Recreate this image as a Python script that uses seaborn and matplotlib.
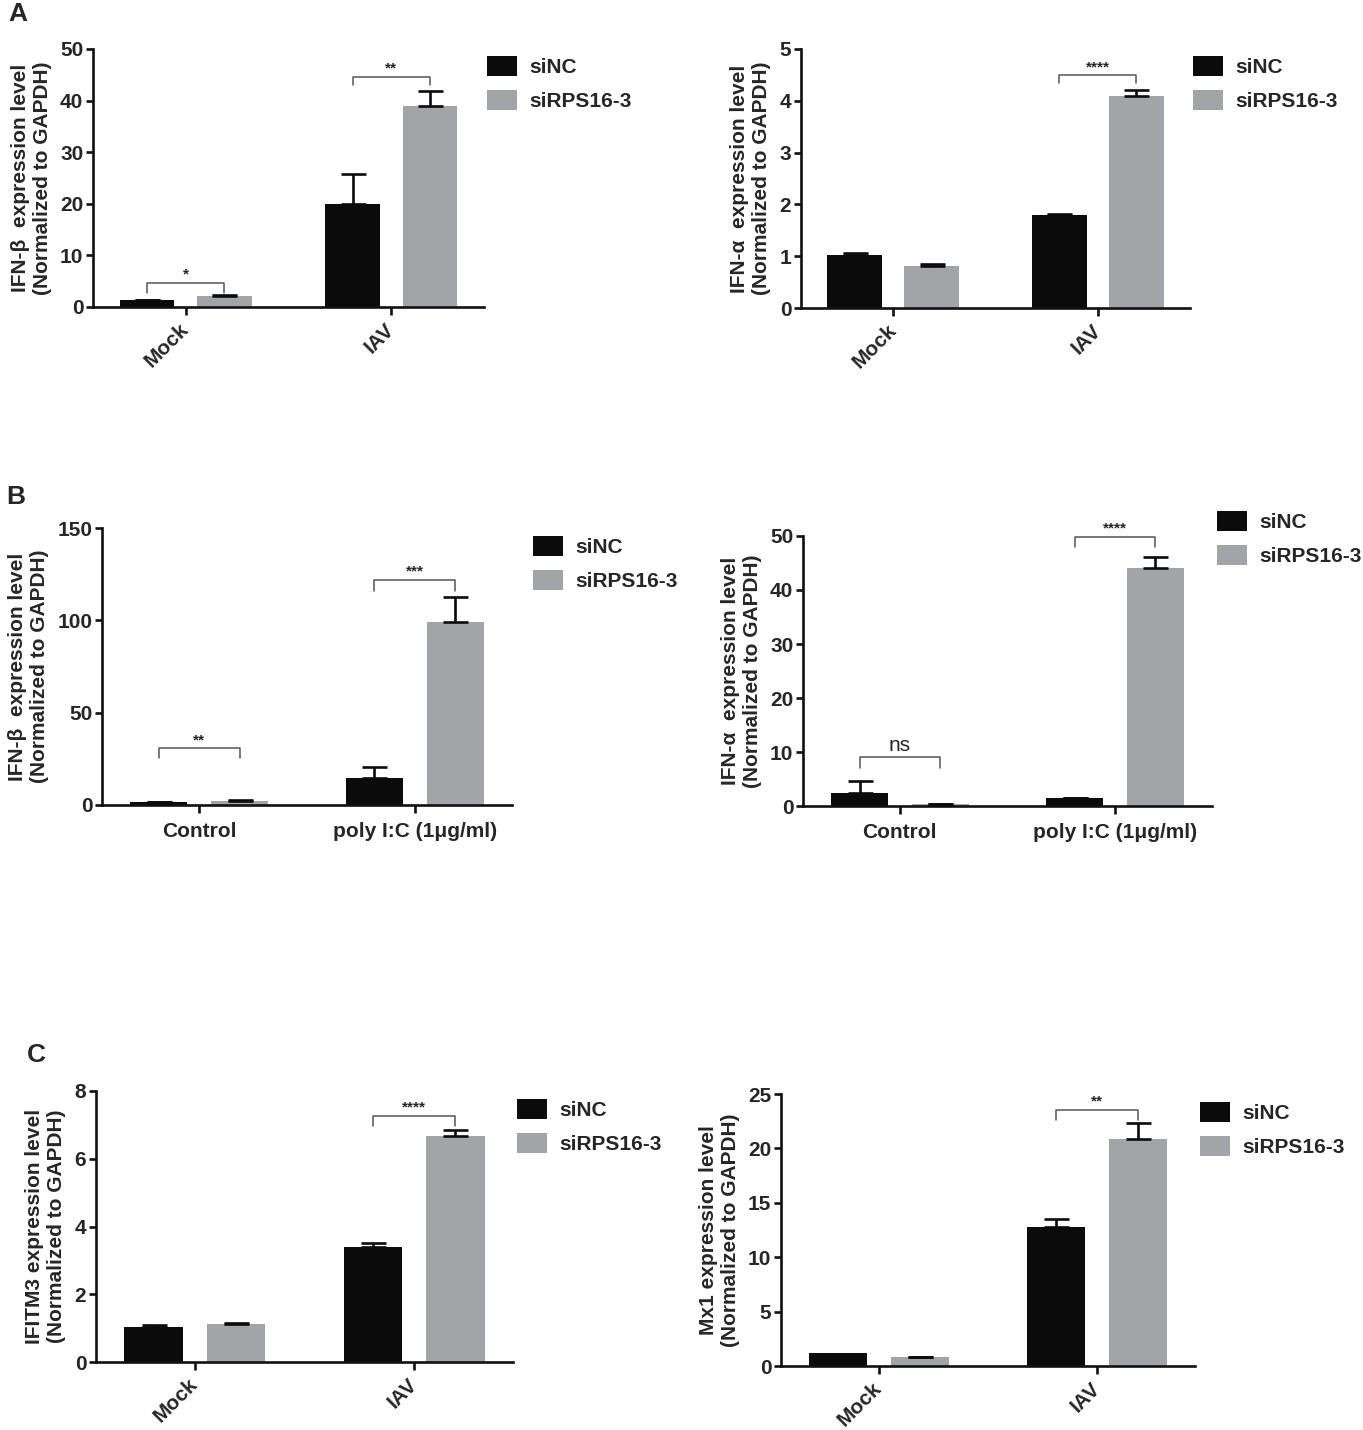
import matplotlib
matplotlib.use("Agg")
import matplotlib.pyplot as plt
import seaborn as sns
import pandas as pd

sns.set_theme(style="ticks")
plt.rcParams['font.family'] = ['Liberation Sans', 'DejaVu Sans']
plt.rcParams['font.weight'] = 'bold'
plt.rcParams['axes.labelweight'] = 'bold'

# ---------------- data ----------------
treatments = ["siNC", "siRPS16-3"]
groups_iav = ["Mock", "IAV"]
groups_pic = ["Control", "poly I:C (1\u03bcg/ml)"]

# Panel A : IFN-beta (IAV)
a1_sinc = [1.3, 19.9]
a1_sinc_err = [0.1, 5.8]
a1_sirps = [2.2, 38.9]
a1_sirps_err = [0.2, 3.0]
a1_brackets = [(0, 4.6, 2.7, "*"), (1, 44.6, 43.0, "**")]

# Panel A : IFN-alpha (IAV)
a2_sinc = [1.02, 1.79]
a2_sinc_err = [0.05, 0.03]
a2_sirps = [0.81, 4.09]
a2_sirps_err = [0.03, 0.12]
a2_brackets = [(1, 4.49, 4.34, "****")]

# Panel B : IFN-beta (poly I:C)
b1_sinc = [1.5, 14.4]
b1_sinc_err = [0.3, 6.0]
b1_sirps = [2.4, 99.3]
b1_sirps_err = [0.4, 13.4]
b1_brackets = [(0, 30.6, 25.6, "**"), (1, 122.0, 116.0, "***")]

# Panel B : IFN-alpha (poly I:C)
b2_sinc = [2.4, 1.4]
b2_sinc_err = [2.3, 0.05]
b2_sirps = [0.4, 44.1]
b2_sirps_err = [0.05, 2.1]
b2_brackets = [(0, 9.0, 7.0, "ns"), (1, 49.9, 48.0, "****")]

# Panel C : IFITM3
c1_sinc = [1.04, 3.40]
c1_sinc_err = [0.04, 0.11]
c1_sirps = [1.12, 6.66]
c1_sirps_err = [0.02, 0.20]
c1_brackets = [(1, 7.26, 6.97, "****")]

# Panel C : Mx1
c2_sinc = [1.17, 12.8]
c2_sinc_err = [0.0, 0.7]
c2_sirps = [0.8, 20.9]
c2_sirps_err = [0.05, 1.4]
c2_brackets = [(1, 23.5, 22.6, "**")]

COL_NC = "#0b0b0b"
COL_RPS = "#a3a4a7"

W, H = 1363, 1430
fig = plt.figure(figsize=(W / 100, H / 100), dpi=100)


def panel(box, groups, sinc, sinc_err, sirps, sirps_err, brackets, yticks,
          ylabel, rotate, legend_xy):
    L, R, T, B = box
    ax = fig.add_axes([L / W, 1 - B / H, (R - L) / W, (B - T) / H])
    df = pd.DataFrame({
        "group": groups + groups,
        "treatment": [treatments[0]] * len(groups) + [treatments[1]] * len(groups),
        "value": sinc + sirps,
    })
    sns.barplot(data=df, x="group", y="value", hue="treatment",
                hue_order=treatments, order=groups,
                palette=[COL_NC, COL_RPS], saturation=1, width=0.75, gap=0.29,
                errorbar=None, linewidth=0, ax=ax)
    errs = [sinc_err, sirps_err]
    centers = {}
    bar_conts = list(ax.containers)[:2]
    tops = []
    for hi, cont in enumerate(bar_conts):
        for gi, bar in enumerate(list(cont)):
            xc = bar.get_x() + bar.get_width() / 2
            h = bar.get_height()
            centers[(hi, gi)] = xc
            tops.append((xc, h, errs[hi][gi]))
    for xc, h, e in tops:
        if e > 0:
            ax.errorbar([xc], [h], yerr=[[0], [e]], fmt="none",
                        ecolor=COL_NC, elinewidth=1.9, capsize=9,
                        capthick=1.9, zorder=3)
    for gi, yl, yb, lab in brackets:
        x0, x1 = centers[(0, gi)], centers[(1, gi)]
        ax.plot([x0, x0, x1, x1], [yb, yl, yl, yb], color="#555555",
                lw=1.1, clip_on=False, zorder=4)
        if lab == "ns":
            ax.annotate(lab, ((x0 + x1) / 2, yl), xytext=(0, 2),
                        textcoords="offset points", ha="center", va="bottom",
                        fontsize=15, fontweight="normal")
        else:
            ax.annotate(lab, ((x0 + x1) / 2, yl), xytext=(0, 1),
                        textcoords="offset points", ha="center", va="bottom",
                        fontsize=11, fontweight="bold")
    ax.set_xlim(-0.45, 1.45)
    ax.set_ylim(yticks[0], yticks[-1])
    ax.set_yticks(yticks)
    ax.set_yticklabels([str(t) for t in yticks], fontsize=15, fontweight="bold")
    ax.set_xlabel("")
    ax.set_ylabel(ylabel, fontsize=15, fontweight="bold", labelpad=6,
                  linespacing=1.2)
    ax.set_xticks(range(len(groups)))
    if rotate:
        ax.set_xticklabels(groups, rotation=45, ha="right", va="center",
                           rotation_mode="anchor", fontsize=15, fontweight="bold")
    else:
        ax.set_xticklabels(groups, fontsize=15, fontweight="bold")
    sns.despine(ax=ax)
    for s in ["left", "bottom"]:
        ax.spines[s].set_linewidth(1.9)
        ax.spines[s].set_color("#111111")
    ax.tick_params(axis="y", length=5, width=1.9, color="#111111", pad=2)
    ax.tick_params(axis="x", length=6, width=1.9, color="#111111",
                   pad=8 if rotate else 6)
    ax.set_facecolor("white")
    handles, labels = ax.get_legend_handles_labels()
    if ax.get_legend() is not None:
        ax.get_legend().remove()
    lx, ly = legend_xy
    ax.legend(handles, labels, loc="upper left",
              bbox_to_anchor=(lx / W, 1 - ly / H), bbox_transform=fig.transFigure,
              frameon=False, borderaxespad=0, borderpad=0, handlelength=1.45,
              handleheight=1.1, handletextpad=0.6, labelspacing=0.6,
              prop={"size": 15, "weight": "bold"})
    return ax


beta = "IFN-\u03b2  expression level\n(Normalized to GAPDH)"
alpha = "IFN-\u03b1  expression level\n(Normalized to GAPDH)"

panel((93, 484, 49, 307), groups_iav, a1_sinc, a1_sinc_err, a1_sirps, a1_sirps_err,
      a1_brackets, [0, 10, 20, 30, 40, 50], beta, True, (487, 56))
panel((801, 1190, 49, 308), groups_iav, a2_sinc, a2_sinc_err, a2_sirps, a2_sirps_err,
      a2_brackets, [0, 1, 2, 3, 4, 5], alpha, True, (1193, 56))
panel((102, 512, 528, 805), groups_pic, b1_sinc, b1_sinc_err, b1_sirps, b1_sirps_err,
      b1_brackets, [0, 50, 100, 150], beta, False, (533, 536))
panel((803, 1212, 536, 806), groups_pic, b2_sinc, b2_sinc_err, b2_sirps, b2_sirps_err,
      b2_brackets, [0, 10, 20, 30, 40, 50], alpha, False, (1217, 511))
panel((96, 513, 1091, 1362), groups_iav, c1_sinc, c1_sinc_err, c1_sirps, c1_sirps_err,
      c1_brackets, [0, 2, 4, 6, 8], "IFITM3 expression level\n(Normalized to GAPDH)",
      True, (517, 1099))
panel((781, 1195, 1094, 1366), groups_iav, c2_sinc, c2_sinc_err, c2_sirps, c2_sirps_err,
      c2_brackets, [0, 5, 10, 15, 20, 25], "Mx1 expression level\n(Normalized to GAPDH)",
      True, (1200, 1102))

fig.text(8 / W, 1 - 2 / H, "A", fontsize=19, fontweight="bold", va="top", ha="left")
fig.text(6 / W, 1 - 485 / H, "B", fontsize=19, fontweight="bold", va="top", ha="left")
fig.text(27 / W, 1 - 1043 / H, "C", fontsize=19, fontweight="bold", va="top", ha="left")

fig.savefig("out.png", dpi=100, facecolor="white")
